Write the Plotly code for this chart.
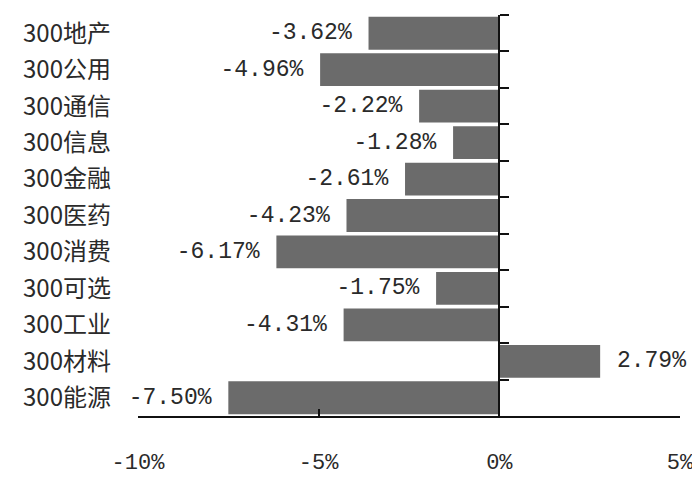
import plotly.graph_objects as go

categories = ["300地产", "300公用", "300通信", "300信息", "300金融", "300医药",
              "300消费", "300可选", "300工业", "300材料", "300能源"]
values = [-3.62, -4.96, -2.22, -1.28, -2.61, -4.23, -6.17, -1.75, -4.31, 2.79, -7.50]
tick_vals = [-10, -5, 0, 5]
tick_text = ["-10%", "-5%", "0%", "5%"]

NB = "\u00a0"
labels = [(f"{v:.2f}%" + NB) if v < 0 else (NB + f"{v:.2f}%") for v in values]

fig = go.Figure()
fig.add_trace(go.Bar(
    x=values, y=categories, orientation="h",
    marker=dict(color="#6b6b6b", line=dict(width=0)),
    text=labels, textposition="outside", constraintext="none", cliponaxis=False,
    textfont=dict(family="Liberation Mono", size=23, color="#2a2a2a"),
    hoverinfo="skip", showlegend=False,
))
# helper trace to drive the axis line at zero
fig.add_trace(go.Scatter(
    x=[0] * len(categories), y=categories, yaxis="y2", mode="markers",
    marker=dict(opacity=0), hoverinfo="skip", showlegend=False,
))

n = len(categories)
fig.update_layout(
    width=700, height=481,
    margin=dict(l=130, r=28, t=7, b=73),
    paper_bgcolor="white", plot_bgcolor="white",
    bargap=0.1,
    xaxis=dict(
        range=[-10, 5], tickvals=tick_vals, ticktext=tick_text,
        showgrid=False, zeroline=False, automargin=False,
        showline=True, linecolor="#111111", linewidth=1.5,
        ticks="inside", ticklen=7, tickcolor="#111111", tickwidth=1.5,
        tickfont=dict(family="Liberation Mono", size=22, color="#2a2a2a"),
        ticklabelstandoff=25,
    ),
    yaxis=dict(
        type="category", categoryorder="array", categoryarray=categories,
        range=[n - 0.5, -0.5], automargin=False,
        showgrid=False, zeroline=False, showline=False, ticks="",
        tickfont=dict(family="Noto Sans CJK SC", size=24, color="#2a2a2a"),
        ticklabelstandoff=26,
    ),
    yaxis2=dict(
        type="category", categoryorder="array", categoryarray=categories,
        range=[n - 0.5, -0.5],
        overlaying="y", anchor="free", position=2 / 3, side="right",
        showgrid=False, zeroline=False, showticklabels=False,
        showline=True, linecolor="#111111", linewidth=1.5,
        ticks="outside", tickson="boundaries", ticklen=9,
        tickcolor="#111111", tickwidth=1.5,
    ),
)

fig.write_html("out.html")
